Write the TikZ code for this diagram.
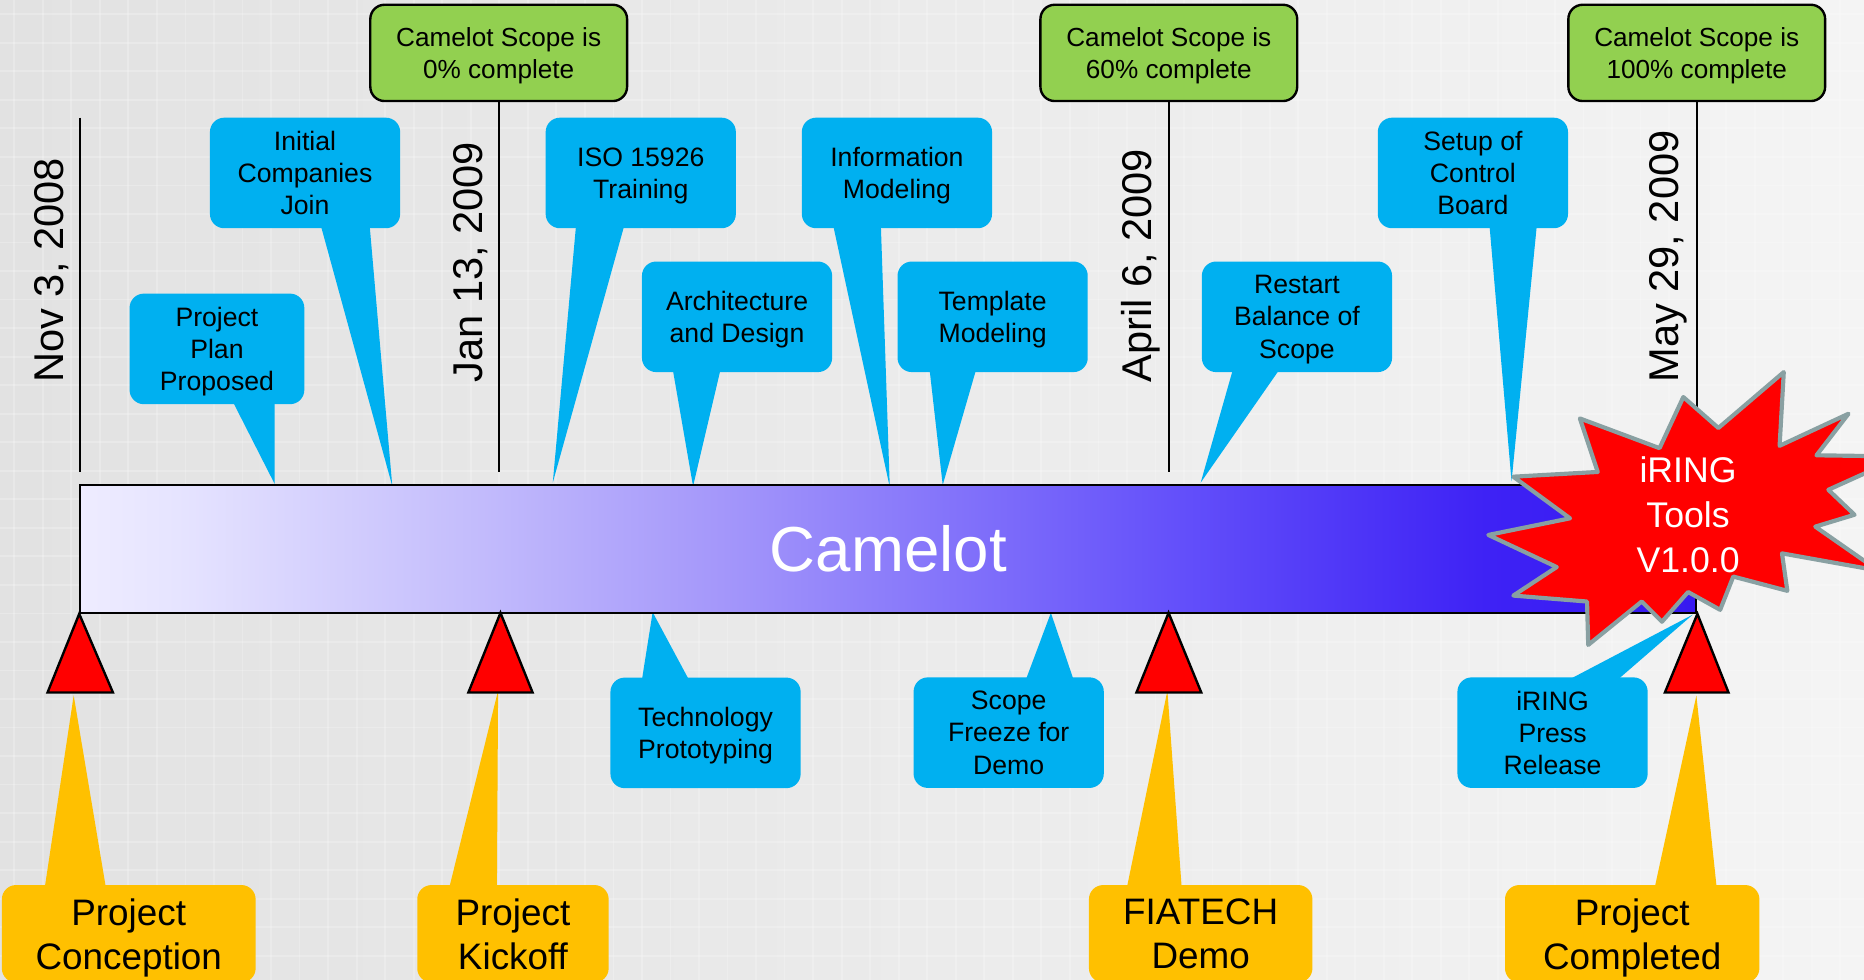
\documentclass[tikz,border=0pt]{standalone}
\usepackage{fontspec}
\setmainfont{Liberation Sans}
\usetikzlibrary{calc}
\definecolor{calloutblue}{RGB}{0,176,240}
\definecolor{scopegreen}{RGB}{146,208,80}
\definecolor{mileorange}{RGB}{255,192,0}
\definecolor{burstgray}{RGB}{137,160,162}
\definecolor{bgleft}{RGB}{226,226,226}
\definecolor{bgright}{RGB}{244,244,244}
\pgfdeclarehorizontalshading{barshade}{100bp}{rgb(0bp)=(0.933,0.925,1); rgb(25bp)=(0.933,0.925,1); rgb(28bp)=(0.902,0.894,1); rgb(37.2bp)=(0.765,0.737,0.988); rgb(44.6bp)=(0.647,0.596,0.98); rgb(50bp)=(0.549,0.49,0.98); rgb(59.3bp)=(0.384,0.306,0.98); rgb(68.5bp)=(0.243,0.133,0.961); rgb(75bp)=(0.216,0.098,0.941); rgb(100bp)=(0.216,0.098,0.941)}
\begin{document}
\begin{tikzpicture}[x=1pt,y=-1pt,
  gridline/.style={white, line width=1.5pt, opacity=0.22},
  dateline/.style={black, line width=1.7pt},
  datelabel/.style={rotate=90, anchor=base west, inner sep=0pt, font=\fontsize{35}{42}\selectfont},
  greenbox/.style={draw=black, line width=2pt, fill=scopegreen, rounded corners=12pt, minimum width=216pt, minimum height=81pt, inner sep=0pt, text depth=0pt, align=center, font=\fontsize{22}{27}\selectfont},
  bluebox/.style={fill=calloutblue, rounded corners=12pt, minimum width=160pt, minimum height=93pt, inner sep=0pt, text depth=0pt, align=center, font=\fontsize{22.4}{27}\selectfont},
  bluepointer/.style={fill=calloutblue},
  orangebox/.style={fill=mileorange, rounded corners=12pt, minimum height=82pt, inner sep=0pt, text depth=0pt, align=center, font=\fontsize{31}{37}\selectfont},
  orangepointer/.style={fill=mileorange},
  milestone/.style={draw=black, line width=2pt, fill=red, line join=miter},
  burst/.style={fill=red, draw=burstgray, line width=3.5pt, line join=round},
  bartext/.style={text=white, font=\fontsize{53.5}{60}\selectfont}]
\useasboundingbox (0,0) rectangle (1568,824);
\begin{scope}
\clip (0,0) rectangle (1568,824);
% background
\shade[left color=bgleft, right color=bgright] (0,0) rectangle (1568,824);
\foreach \gx in {12,36,...,1568} \draw[gridline] (\gx,0) -- (\gx,824);
\foreach \gy in {12,36,...,824} \draw[gridline] (0,\gy) -- (1568,\gy);

% scope boxes and date lines
\node[greenbox] (g1) at (419.5,44.5) {Camelot Scope is\\0\% complete};
\node[greenbox] (g2) at (983.2,44.5) {Camelot Scope is\\60\% complete};
\node[greenbox] (g3) at (1427.3,44.5) {Camelot Scope is\\100\% complete};
\coordinate (l0top) at (67.5,99);
\coordinate (l0bot) at (67.5,397);
\coordinate (l1bot) at (419.5,397);
\coordinate (l2bot) at (983.2,397);
\coordinate (l3bot) at (1427.3,408);
\draw[dateline] (l0top) -- (l0bot);
\draw[dateline] (g1.south) -- (l1bot);
\draw[dateline] (g2.south) -- (l2bot);
\draw[dateline] (g3.south) -- (l3bot);
\node[datelabel] (d0) at (53.5,322) {Nov 3, 2008};
\node[datelabel] (d1) at (405.5,322) {Jan 13, 2009};
\node[datelabel] (d2) at (969,322) {April 6, 2009};
\node[datelabel] (d3) at (1412,322) {May 29, 2009};

% pointer tips
\coordinate (tb1) at (231,407);
\coordinate (tb2) at (330,409);
\coordinate (tb3) at (465,406);
\coordinate (tb4) at (583,409);
\coordinate (tb5) at (748.5,410);
\coordinate (tb6) at (793,408);
\coordinate (tb7) at (1010,406);
\coordinate (tb8) at (1271.5,405);
\coordinate (tb9) at (549,515);
\coordinate (tb10) at (884,515.5);
\coordinate (tb11) at (1424,517);

% upper blue callouts
\node[bluebox, minimum width=147pt] (b1) at (182.5,293.5) {Project\\Plan\\Proposed};
\node[bluebox] (b2) at (256.6,145.5) {Initial\\Companies\\Join};
\node[bluebox] (b3) at (539,145.5) {ISO 15926\\Training};
\node[bluebox] (b4) at (620,266.5) {Architecture\\and Design};
\node[bluebox] (b5) at (754.5,145.5) {Information\\Modeling};
\node[bluebox] (b6) at (835,266.5) {Template\\Modeling};
\node[bluebox] (b7) at (1091,266.5) {Restart\\Balance of\\Scope};
\node[bluebox] (b8) at (1239,145.5) {Setup of\\Control\\Board};
\fill[bluepointer] ($(b1.south)+(13.5,-2)$) -- (tb1) -- ($(b1.south)+(48.5,-2)$) -- cycle;
\fill[bluepointer] ($(b2.south)+(13.4,-2)$) -- (tb2) -- ($(b2.south)+(54.4,-2)$) -- cycle;
\fill[bluepointer] ($(b3.south)+(-54.5,-2)$) -- (tb3) -- ($(b3.south)+(-14,-2)$) -- cycle;
\fill[bluepointer] ($(b4.south)+(-54,-2)$) -- (tb4) -- ($(b4.south)+(-14,-2)$) -- cycle;
\fill[bluepointer] ($(b5.south)+(-53.5,-2)$) -- (tb5) -- ($(b5.south)+(-13.5,-2)$) -- cycle;
\fill[bluepointer] ($(b6.south)+(-53,-2)$) -- (tb6) -- ($(b6.south)+(-14,-2)$) -- cycle;
\fill[bluepointer] ($(b7.south)+(-54,-2)$) -- (tb7) -- ($(b7.south)+(-15,-2)$) -- cycle;
\fill[bluepointer] ($(b8.south)+(14,-2)$) -- (tb8) -- ($(b8.south)+(53.7,-2)$) -- cycle;

% lower blue callouts
\node[bluebox] (b9) at (593.5,616.5) {Technology\\Prototyping};
\node[bluebox] (b10) at (848.5,616.3) {Scope\\Freeze for\\Demo};
\node[bluebox] (b11) at (1306,616.3) {iRING\\Press\\Release};
\fill[bluepointer] ($(b9.north)+(-53.5,2)$) -- (tb9) -- ($(b9.north)+(-14,2)$) -- cycle;
\fill[bluepointer] ($(b10.north)+(14.5,2)$) -- (tb10) -- ($(b10.north)+(54.5,2)$) -- cycle;
\fill[bluepointer] ($(b11.north)+(14,2)$) -- (tb11) -- ($(b11.north)+(55,2)$) -- cycle;

% the Camelot bar
\node[draw=black, line width=1.7pt, shade, shading=barshade, minimum width=1359.5pt, minimum height=107.5pt, inner sep=0pt, bartext] (bar) at (747.25,461.75) {Camelot};

% starburst
\filldraw[burst] (1329,352) -- (1396,377) -- (1416,334) -- (1445.5,360) -- (1500.5,313) -- (1497,375) -- (1555,348) -- (1528,383) -- (1600,384) -- (1538,412) -- (1560,433) -- (1527,443) -- (1580,480) -- (1499,465.5) -- (1503.5,497) -- (1458,485) -- (1447,513) -- (1420,498) -- (1398,523) -- (1381,506) -- (1336,542.5) -- (1335,506) -- (1273,501) -- (1309.5,477) -- (1252,450) -- (1320.7,436) -- (1273,401) -- (1344,397) -- cycle;
\node[text=white, align=center, inner sep=0pt, font=\fontsize{30}{37.5}\selectfont] (iring) at (1420,433) {iRING\\Tools\\V1.0.0};

% milestone callouts
\coordinate (to1) at (62,585);
\coordinate (to2) at (419,581);
\coordinate (to3) at (982,581);
\coordinate (to4) at (1427,585);
\node[orangebox, minimum width=213.5pt] (o1) at (108.3,785.5) {Project\\Conception};
\node[orangebox, minimum width=161pt] (o2) at (431.5,785.5) {Project\\Kickoff};
\node[orangebox, minimum width=188pt] (o3) at (1010,785.5) {FIATECH\\Demo};
\node[orangebox, minimum width=214pt] (o4) at (1373,785.5) {Project\\Completed};
\fill[orangepointer] ($(o1.north)+(-70.6,2)$) -- (to1) -- ($(o1.north)+(-19.3,2)$) -- cycle;
\fill[orangepointer] ($(o2.north)+(-53.5,2)$) -- (to2) -- ($(o2.north)+(-13.5,2)$) -- cycle;
\fill[orangepointer] ($(o3.north)+(-62,2)$) -- (to3) -- ($(o3.north)+(-16,2)$) -- cycle;
\fill[orangepointer] ($(o4.north)+(19,2)$) -- (to4) -- ($(o4.north)+(71,2)$) -- cycle;

% milestone triangles
\draw[milestone] (bar.south west) -- (95,582.5) -- (40,582.5) -- cycle;
\draw[milestone] (421,515.5) -- (448,582.5) -- (394,582.5) -- cycle;
\draw[milestone] (983,515.5) -- (1010.5,582.5) -- (956,582.5) -- cycle;
\draw[milestone] (bar.south east) -- (1454,582.5) -- (1400.5,582.5) -- cycle;
\end{scope}
\end{tikzpicture}
\end{document}
